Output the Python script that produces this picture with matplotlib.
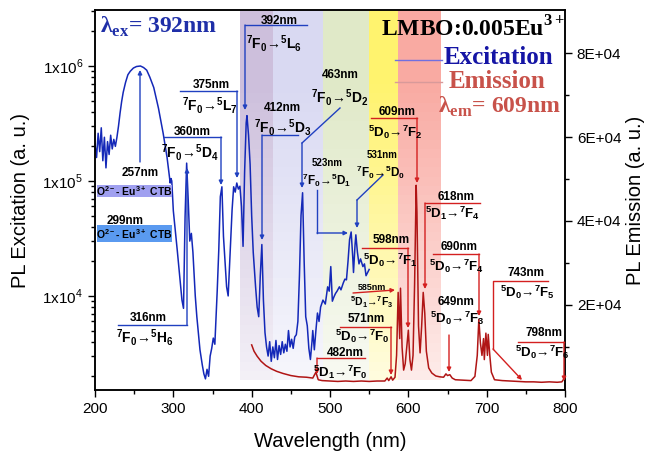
import matplotlib.pyplot as plt
import matplotlib.ticker as mticker
from matplotlib.lines import Line2D
from matplotlib.patches import FancyArrowPatch, Rectangle

plt.rcParams['font.family'] = ['Liberation Sans', 'DejaVu Sans']
plt.rcParams['font.size'] = 11

# excitation spectrum (lambda_em = 609 nm), left log axis
exc_nm = [200, 202, 204, 206, 208, 210, 212, 214, 216, 218, 220, 222, 224, 226, 228,
          230, 232, 234, 236, 239, 242, 245, 249, 253, 258, 262, 266, 270, 275, 281,
          287, 292, 295, 296, 297, 298, 300, 302, 305, 308, 311, 313, 315, 317, 319,
          321, 323, 325, 328, 330, 334, 337, 339, 341, 343, 345, 347, 349, 351, 353,
          356, 358, 360, 362, 364, 366, 368, 370, 372, 375, 377, 379, 381, 383, 385,
          387, 389, 391, 393, 394, 396, 398, 400, 402, 405, 407, 409, 411, 413, 415,
          417, 419, 421, 423, 425, 427, 429, 431, 433, 435, 437, 439, 441, 443, 445,
          447, 449, 451, 453, 455, 457, 459, 461, 463, 465, 467, 469, 471, 473, 475,
          477, 478, 480, 482, 484, 486, 488, 491, 494, 497, 499, 501, 503, 505, 507,
          509, 512, 514, 517, 519, 521, 523, 525, 527, 529, 530, 532, 533, 535, 537,
          539, 542, 544, 546, 548, 550]
exc_val = [2.1e5, 1.6e5, 2.6e5, 1.8e5, 2.9e5, 1.5e5, 2.4e5, 1.3e5, 2.2e5, 1.7e5, 2.5e5, 1.9e5, 2.3e5, 2.0e5, 2.4e5,
           3.0e5, 3.9e5, 4.9e5, 5.9e5, 7.2e5, 8.4e5, 9.0e5, 9.6e5, 9.9e5, 1.0e6, 9.7e5, 9.2e5, 8.0e5, 6.5e5, 4.3e5,
           2.6e5, 1.6e5, 1.1e5, 9.6e4, 1.05e5, 1.0e5, 5.5e4, 4.0e4, 2.5e4, 1.5e4, 9.2e3, 7.8e3, 4.9e4, 1.43e5, 6.8e4,
           3.0e4, 3.5e4, 2.4e4, 1.0e4, 6.6e3, 3.4e3, 2.5e3, 2.1e3, 1.9e3, 2.3e3, 2.0e3, 3.0e3, 3.5e3, 4.3e3, 3.8e3,
           1.1e4, 2.5e4, 7.3e4, 8.9e4, 3.3e4, 2.0e4, 1.2e4, 1.0e4, 2.0e4, 5.6e4, 8.9e4, 8.0e4, 9.6e4, 8.5e4, 9.0e4,
           6.0e4, 2.7e4, 1.2e5, 3.2e5, 3.7e5, 2.5e5, 1.4e5, 5.0e4, 2.4e4, 1.2e4, 8.0e3, 6.6e3, 1.5e4, 2.8e4, 9.2e3,
           4.8e3, 3.6e3, 3.0e3, 4.0e3, 2.7e3, 3.6e3, 2.9e3, 4.1e3, 2.8e3, 3.7e3, 3.1e3, 4.0e3, 3.2e3, 3.8e3, 3.3e3,
           5.0e3, 3.6e3, 4.2e3, 3.5e3, 4.4e3, 4.6e3, 6.0e3, 1.5e4, 5.0e4, 7.9e4, 2.0e4, 6.6e3, 5.5e3, 3.5e3, 2.8e3,
           4.0e3, 5.0e3, 3.4e3, 5.0e3, 7.1e3, 6.0e3, 8.0e3, 9.2e3, 8.5e3, 1.2e4, 1.1e4, 1.8e4, 9.0e3, 9.8e3, 1.05e4,
           1.1e4, 1.2e4, 1.13e4, 1.3e4, 1.4e4, 1.38e4, 2.0e4, 3.1e4, 3.6e4, 2.2e4, 1.6e4, 2.8e4, 3.4e4, 2.4e4, 1.9e4,
           2.1e4, 1.8e4, 1.9e4, 1.5e4, 1.6e4, 1.7e4]

# emission spectrum (lambda_ex = 392 nm), right linear axis
em_nm = [400, 403, 407, 412, 418, 425, 432, 440, 450, 460, 470, 478, 482, 485, 490,
         500, 510, 520, 530, 540, 550, 560, 570, 573, 575, 578, 580, 583, 585, 587,
         589, 590, 592, 594, 596, 598, 600, 602, 604, 606, 608, 610, 611, 613, 615,
         617, 619, 621, 623, 626, 630, 635, 640, 645, 648, 650, 653, 656, 660, 670,
         680, 685, 688, 690, 692, 694, 696, 697, 699, 701, 702, 704, 706, 710, 720,
         730, 740, 750, 760, 770, 780, 790, 796, 800]
em_val = [1.05e4, 9.0e3, 7.8e3, 6.6e3, 5.6e3, 4.8e3, 4.2e3, 3.7e3, 3.2e3, 2.9e3, 2.8e3, 2.6e3, 4.0e3, 2.2e3, 2.0e3,
          1.9e3, 1.8e3, 1.9e3, 1.8e3, 1.9e3, 1.8e3, 1.9e3, 1.9e3, 2.6e3, 2.0e3, 2.9e3, 2.1e3, 2.8e3, 8.0e3, 2.3e4,
          1.2e4, 2.4e4, 1.0e4, 4.5e3, 6.0e3, 1.0e4, 1.4e4, 7.0e3, 4.5e3, 8.0e3, 2.5e4, 4.85e4, 4.2e4, 1.5e4, 8.6e3,
          1.5e4, 2.3e4, 1.8e4, 9.0e3, 5.0e3, 3.8e3, 3.1e3, 2.9e3, 2.8e3, 3.6e3, 3.2e3, 3.4e3, 2.6e3, 2.2e3, 2.1e3,
          2.0e3, 3.0e3, 8.0e3, 1.66e4, 1.1e4, 8.0e3, 1.2e4, 7.0e3, 1.33e4, 8.0e3, 1.3e4, 8.0e3, 4.0e3, 2.2e3, 2.0e3,
          1.9e3, 1.8e3, 1.7e3, 1.7e3, 1.6e3, 1.7e3, 1.6e3, 1.7e3, 2.8e3]

W, H = 649, 454
fig, ax = plt.subplots(figsize=(W / 100, H / 100), dpi=100)
fig.subplots_adjust(left=95 / W, right=565 / W, bottom=1 - 390 / H, top=1 - 10 / H)
ax2 = ax.twinx()

# coloured spectral bands, fading towards the bottom
bands = [(385, 427.5, '#cdbfdc'), (427.5, 491.5, '#d9d9f2'), (491.5, 549.5, '#e0e9c8'),
         (549.5, 586.5, '#fff36e'), (586.5, 641.5, '#f9aaa2')]
n_sl = 40
y_lo = 0.026
for a, b, c in bands:
    for i in range(n_sl):
        y0 = y_lo + (1 - y_lo) * i / n_sl
        y1 = y_lo + (1 - y_lo) * (i + 1) / n_sl
        alpha = 0.22 + 0.78 * min(1.0, 1.25 * (i + 0.5) / n_sl)
        ax.axvspan(a, b, ymin=y0, ymax=y1, color=c, alpha=alpha, lw=0,
                   antialiased=False, zorder=0)

ax.plot(exc_nm, exc_val, color='#1428b8', lw=1.1)
ax2.plot(em_nm, em_val, color='#b01515', lw=1.1)

ax.set_xlim(200, 800)
ax.set_yscale('log')
ax.set_ylim(1.52e3, 3.07e6)
ax2.set_ylim(-240, 90240)

ax.set_xticks(range(200, 801, 100))
ax.xaxis.set_minor_locator(mticker.MultipleLocator(50))
ax.set_yticks([1e4, 1e5, 1e6])
ax.set_yticklabels([r'1x10$^{\mathregular{4}}$', r'1x10$^{\mathregular{5}}$', r'1x10$^{\mathregular{6}}$'])
ax.yaxis.set_minor_locator(mticker.LogLocator(base=10, subs=range(2, 10)))
ax.yaxis.set_minor_formatter(mticker.NullFormatter())
ax2.set_yticks([2e4, 4e4, 6e4, 8e4])
ax2.yaxis.set_major_formatter(mticker.FuncFormatter(lambda v, p: f'{v:.0E}'))
ax2.set_yticks([1e4, 3e4, 5e4, 7e4], minor=True)

for a in (ax, ax2):
    a.tick_params(which='major', direction='out', length=5, width=1, labelsize=11)
    a.tick_params(which='minor', direction='out', length=3, width=1)
    for s in a.spines.values():
        s.set_linewidth(1.1)

ax.set_xlabel('Wavelength (nm)', fontsize=14.5)
ax.set_ylabel('PL Excitation (a. u.)', fontsize=14.5)
ax2.set_ylabel('PL Emission (a. u.)', fontsize=14.5)
ax.xaxis.set_label_coords(0.5, -0.11)
ax.yaxis.set_label_coords(-0.138, 0.5)
ax2.yaxis.set_label_coords(1.13, 0.5)


# ---- annotation helpers (positions in figure pixels, y from top) ----
def ftext(x, y, s, size, color='k', family=None, ha='center'):
    fig.text(x / W, 1 - y / H, s, fontsize=size, color=color, weight='bold',
             ha=ha, va='center', family=family)


def connector(pts, color):
    xs = [p[0] / W for p in pts]
    ys = [1 - p[1] / H for p in pts]
    if len(pts) > 2:
        fig.add_artist(Line2D(xs[:-1], ys[:-1], color=color, lw=1))
    fig.add_artist(FancyArrowPatch((xs[-2], ys[-2]), (xs[-1], ys[-1]), arrowstyle='-|>',
                                   mutation_scale=6, color=color, lw=1, shrinkA=0, shrinkB=0,
                                   transform=fig.transFigure))


def term(sup, letter, sub):
    return r'$^{\mathregular{%s}}$%s$_{\mathregular{%s}}$' % (sup, letter, sub)


def exc_tr(letter, n):
    return term('7', 'F', '0') + '→' + term('5', letter, n)


def emt(a, b):
    return term('5', 'D', a) + '→' + term('7', 'F', b)


blue_c = '#2040c0'
red_c = '#d42020'

# excitation labels: (nm label, label xy, transition, transition xy, path, sizes)
exc_notes = [
    ('392nm', (279, 21), exc_tr('L', '6'), (274, 43), [(307, 25), (245, 25), (245, 110)], 8.5, 10),
    ('375nm', (211, 85), exc_tr('L', '7'), (210, 105), [(180, 91), (237, 91), (237, 178)], 8.5, 10),
    ('360nm', (192, 132), exc_tr('D', '4'), (190, 152), [(164, 137), (221, 137), (221, 185)], 8.5, 10),
    ('316nm', (148, 318), exc_tr('H', '6'), (145, 337), [(118, 325), (187, 325), (187, 168)], 8.5, 10),
    ('412nm', (282, 108), exc_tr('D', '3'), (283, 127), [(298, 135), (262, 135), (262, 240)], 8.5, 10),
    ('463nm', (340, 75), exc_tr('D', '2'), (340, 97), [(340, 108), (302, 143), (302, 188)], 8.5, 10),
    ('523nm', (327, 163), exc_tr('D', '1'), (327, 180), [(317, 190), (317, 233), (348, 233)], 7, 8.5),
    ('531nm', (382, 155), exc_tr('D', '0'), (380, 172), [(383, 175), (357, 200), (357, 228)], 7, 8.5),
]
for lab, lxy, trn, txy, path, s1, s2 in exc_notes:
    ftext(*lxy, lab, s1)
    ftext(*txy, trn, s2)
    connector(path, blue_c)

# charge-transfer band labels
ftext(140, 173, '257nm', 8.5)
connector([(140, 162), (140, 70)], blue_c)
ctb = r'O$^{\mathregular{2-}}$- Eu$^{\mathregular{3+}}$ CTB'
fig.add_artist(Rectangle((97 / W, 1 - 197 / H), 75 / W, 12 / H, facecolor='#a0a0f0', lw=0))
ftext(134, 191, ctb, 7.5)
ftext(125, 221, '299nm', 8.5)
fig.add_artist(Rectangle((97 / W, 1 - 242 / H), 75 / W, 17 / H, facecolor='#5a9af0', lw=0))
ftext(134, 234, ctb, 7.5)

# emission labels
em_notes = [
    ('609nm', (397, 112), emt('0', '2'), (395, 132), [(371, 118), (417, 118), (417, 183)], 8.5, 9.5),
    ('618nm', (456, 197), emt('1', '4'), (453, 213), [(480, 203), (425, 203), (425, 289)], 8.5, 9.5),
    ('598nm', (391, 240), emt('0', '1'), (390, 260), [(362, 248), (408, 248), (408, 328)], 8.5, 9.5),
    ('585nm', (372, 287), emt('1', '3'), (372, 302), [(353, 293), (395, 290)], 6.5, 7.5),
    ('571nm', (366, 319), emt('0', '0'), (362, 336), [(340, 327), (391, 327), (391, 375)], 8.5, 9.5),
    ('482nm', (345, 353), emt('1', '0'), (340, 372), [(365, 358), (317, 358), (317, 374)], 8.5, 9.5),
    ('690nm', (459, 247), emt('0', '4'), (457, 266), [(433, 254), (479, 254), (479, 316)], 8.5, 9.5),
    ('649nm', (456, 302), emt('0', '3'), (457, 318), [(449, 335), (449, 372)], 8.5, 9.5),
    ('743nm', (526, 273), emt('0', '5'), (527, 292), [(548, 281), (493, 281), (493, 349), (522, 380)], 8.5, 9.5),
    ('798nm', (544, 333), emt('0', '6'), (542, 352), [(518, 342), (564, 342), (564, 381)], 8.5, 9.5),
]
for lab, lxy, trn, txy, path, s1, s2 in em_notes:
    ftext(*lxy, lab, s1)
    ftext(*txy, trn, s2)
    connector(path, red_c)

# titles / legend
serif = ['Liberation Serif', 'DejaVu Serif']
ftext(100, 27, r'λ$_{\mathregular{ex}}$= 392nm', 17, color='#1f2fa8', family=serif, ha='left')
ftext(473, 29, r'LMBO:0.005Eu$^{\mathregular{3+}}$', 17, family=serif)
ftext(498, 58, 'Excitation', 18, color='#1515a5', family=serif)
ftext(497, 82, 'Emission', 18, color='#c8524a', family=serif)
ftext(500, 107, r'λ$_{\mathregular{em}}$= 609nm', 17, color='#c8524a', family=serif)
fig.add_artist(Line2D([395 / W, 442 / W], [1 - 60 / H, 1 - 60 / H], color='#7070e0', lw=1))
fig.add_artist(Line2D([395 / W, 442 / W], [1 - 82 / H, 1 - 82 / H], color='#d89a9a', lw=1))

fig.savefig('out.png', dpi=100)
